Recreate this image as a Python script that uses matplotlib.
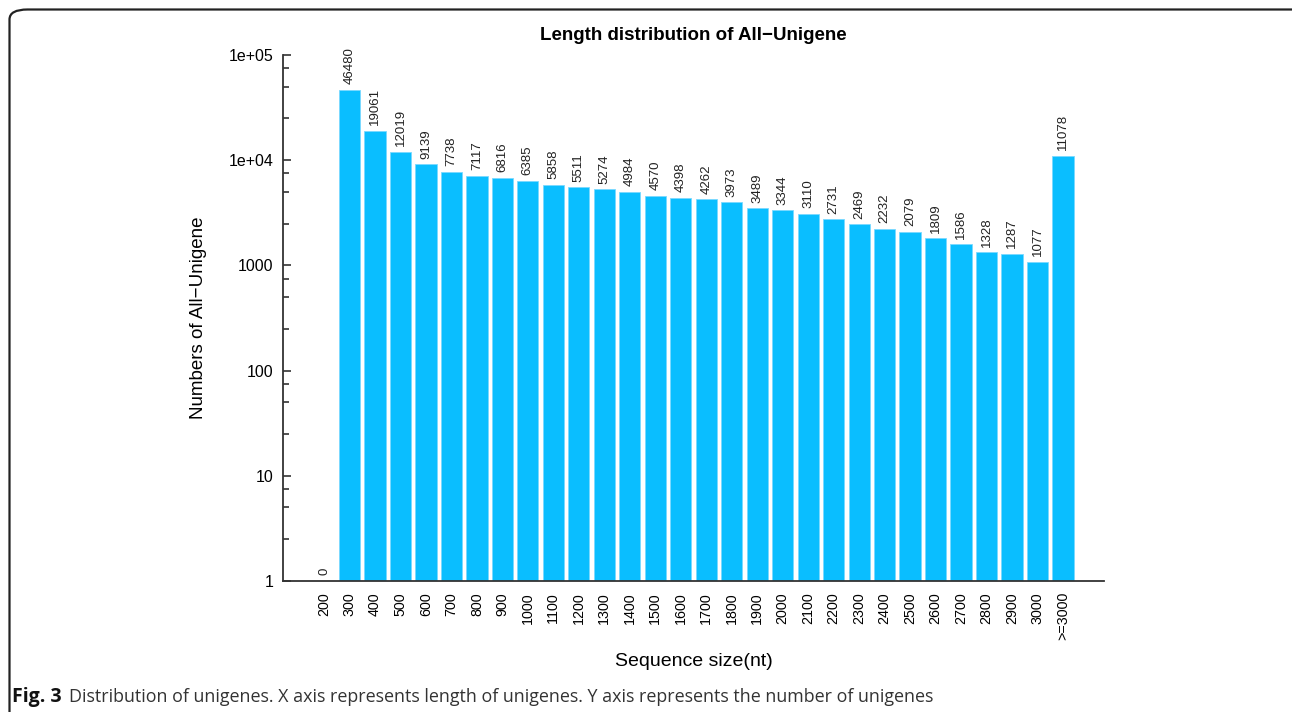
import numpy as np
import matplotlib
matplotlib.use("Agg")
import matplotlib.pyplot as plt
from matplotlib.ticker import LogLocator, FixedLocator, FixedFormatter, NullFormatter
from matplotlib.patches import FancyBboxPatch

# Unigene counts per length bin
size_bins = ['200', '300', '400', '500', '600', '700', '800', '900', '1000', '1100',
             '1200', '1300', '1400', '1500', '1600', '1700', '1800', '1900', '2000', '2100',
             '2200', '2300', '2400', '2500', '2600', '2700', '2800', '2900', '3000', '>=3000']
counts = [0, 46480, 19061, 12019, 9139, 7738, 7117, 6816, 6385, 5858,
          5511, 5274, 4984, 4570, 4398, 4262, 3973, 3489, 3344, 3110,
          2731, 2469, 2232, 2079, 1809, 1586, 1328, 1287, 1077, 11078]

y_ticks = [1, 10, 100, 1000, 1e4, 1e5]
y_tick_labels = ['1', '10', '100', '1000', '1e+04', '1e+05']

plt.rcParams['font.family'] = ['Liberation Sans', 'DejaVu Sans']

W, H = 1292, 712
fig = plt.figure(figsize=(W / 100, H / 100), dpi=100)

# axes box in pixels (R-style barplot region)
left_px, right_px, top_px, bottom_px = 283, 1104, 55, 581
ax = fig.add_axes([left_px / W, 1 - bottom_px / H,
                   (right_px - left_px) / W, (bottom_px - top_px) / H])

# barplot layout: width 1, space 0.2, 4% padding on x
x = 0.7 + 1.2 * np.arange(len(counts))
ax.bar(x, counts, width=1.0, color='#0ABEFF', edgecolor='#7AD9FF', linewidth=0.6)
ax.set_yscale('log', nonpositive='clip')
ax.set_ylim(1, 1e5)
span = x[-1] + 0.5 - 0.2
ax.set_xlim(0.2 - 0.04 * span, x[-1] + 0.5 + 0.04 * span)

# value labels above bars
for xi, c in zip(x, counts):
    ax.annotate(str(c), xy=(xi, max(c, 1)), xytext=(0, 4), textcoords='offset points',
                rotation=90, ha='center', va='bottom', fontsize=9.5, color='#222222')

for s in ['top', 'right']:
    ax.spines[s].set_visible(False)
for s in ['left', 'bottom']:
    ax.spines[s].set_color('#333333')
    ax.spines[s].set_linewidth(1.3)

ax.yaxis.set_major_locator(FixedLocator(y_ticks))
ax.yaxis.set_major_formatter(FixedFormatter(y_tick_labels))
ax.yaxis.set_minor_locator(LogLocator(base=10, subs=[2.5, 5, 7.5]))
ax.yaxis.set_minor_formatter(NullFormatter())
ax.tick_params(axis='y', which='major', direction='in', length=6, width=1.2,
               color='#333333', labelsize=11.5, pad=7)
ax.tick_params(axis='y', which='minor', direction='in', length=4, width=1.2, color='#333333')

ax.set_xticks(x)
ax.set_xticklabels(size_bins, rotation=90, fontsize=10.3)
ax.tick_params(axis='x', length=0, pad=8)

ax.set_ylabel('Numbers of All\u2212Unigene', fontsize=13.5)
ax.yaxis.set_label_coords((207 - left_px) / (right_px - left_px), 0.5)
ax.set_xlabel('Sequence size(nt)', fontsize=14)
ax.xaxis.set_label_coords(0.5, -(661 - bottom_px) / (bottom_px - top_px))
ax.xaxis.label.set_va('center')
ax.set_title('Length distribution of All\u2212Unigene', fontsize=13.5, fontweight='bold',
             y=1 + (top_px - 35) / (bottom_px - top_px), va='center', pad=0)

# panel frame, cut off at the right and bottom
frame = FancyBboxPatch((9.5 / W, -0.05), 1.2, (H - 9.5) / H + 0.05,
                       boxstyle='round,pad=0,rounding_size=0.014',
                       transform=fig.transFigure, fill=False,
                       edgecolor='#222222', linewidth=1.6, clip_on=False)
fig.patches.append(frame)

# caption
cap_y = 1 - 697 / H
t1 = fig.text(12 / W, cap_y, 'Fig. 3', fontsize=14, fontweight='bold',
              family=['Open Sans', 'DejaVu Sans'], va='center', color='#111111')
fig.canvas.draw()
bb = t1.get_window_extent()
fig.text(bb.x1 / W + 7 / W, cap_y,
         'Distribution of unigenes. X axis represents length of unigenes. '
         'Y axis represents the number of unigenes',
         fontsize=12.9, family=['Open Sans', 'DejaVu Sans'], va='center', color='#333333')

fig.savefig('out.png', dpi=100)
